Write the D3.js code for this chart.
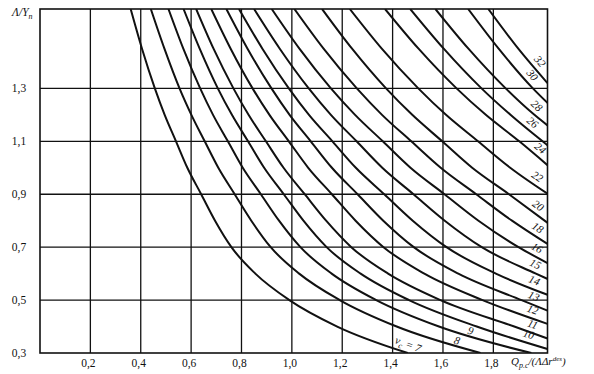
<!DOCTYPE html>
<html>
<head>
  <script src="https://d3js.org/d3.v7.min.js"></script>
  <style>
    body { margin: 0; background: #fff; }
    text { font-family: "Liberation Serif", "DejaVu Serif", serif; fill: #111; }
  </style>
</head>
<body>
  <div id="chart"></div>
  <script>
    // axis ticks
    var xTicks = [0.2, 0.4, 0.6, 0.8, 1.0, 1.2, 1.4, 1.6, 1.8];
    var yTicks = [0.3, 0.5, 0.7, 0.9, 1.1, 1.3];
    var xMax = 2.015, yMin = 0.3, yMax = 1.6;

    var yLevels = [1.6, 1.45, 1.3, 1.2, 1.1, 1.0, 0.9, 0.8, 0.7, 0.6, 0.5, 0.4, 0.3];

    // curve parameter values
    var vc = [7, 8, 9, 10, 11, 12, 13, 14, 15, 16, 18, 20, 22, 24, 26, 28, 30, 32];

    // x of each curve at the y levels above
    var x7  = [0.36, 0.405, 0.456, 0.495, 0.54, 0.585, 0.64, 0.695, 0.76, 0.855, 0.99, 1.18, 1.46];
    var x8  = [0.44, 0.494, 0.554, 0.601, 0.654, 0.708, 0.773, 0.839, 0.916, 1.029, 1.19, 1.416, 1.749];
    var x9  = [0.51, 0.569, 0.636, 0.687, 0.746, 0.805, 0.877, 0.949, 1.034, 1.158, 1.335, 1.584, 1.951];
    var x10 = [0.57, 0.634, 0.706, 0.762, 0.826, 0.89, 0.968, 1.046, 1.138, 1.273, 1.465, 1.734];
    var x11 = [0.62, 0.689, 0.768, 0.828, 0.897, 0.967, 1.051, 1.136, 1.236, 1.382, 1.59, 1.883];
    var x12 = [0.68, 0.757, 0.844, 0.911, 0.988, 1.065, 1.159, 1.253, 1.364, 1.526, 1.757];
    var x13 = [0.74, 0.824, 0.919, 0.991, 1.075, 1.159, 1.261, 1.363, 1.484, 1.661, 1.912];
    var x14 = [0.79, 0.883, 0.988, 1.068, 1.161, 1.254, 1.367, 1.48, 1.614, 1.81];
    var x15 = [0.85, 0.952, 1.067, 1.155, 1.257, 1.359, 1.483, 1.607, 1.754, 1.969];
    var x16 = [0.92, 1.03, 1.155, 1.251, 1.361, 1.471, 1.606, 1.741, 1.90];
    var x18 = [1.01, 1.126, 1.258, 1.358, 1.474, 1.591, 1.732, 1.874];
    var x20 = [1.12, 1.239, 1.374, 1.478, 1.597, 1.716, 1.862];
    var x22 = [1.23, 1.357, 1.502, 1.612, 1.739, 1.867];
    var x24 = [1.37, 1.503, 1.654, 1.77, 1.903];
    var x26 = [1.47, 1.603, 1.753, 1.868];
    var x28 = [1.57, 1.701, 1.849, 1.963];
    var x30 = [1.70, 1.821, 1.957];
    var x32 = [1.78, 1.899];
    var curveX = [x7, x8, x9, x10, x11, x12, x13, x14, x15, x16, x18, x20, x22, x24, x26, x28, x30, x32];

    // where each curve leaves the frame on the right side (null = runs to the bottom)
    var rightEndY = [null, null, null, 0.315, 0.355, 0.41, 0.46, 0.52, 0.58, 0.64, 0.712, 0.792, 0.902, 1.01, 1.085, 1.16, 1.245, 1.32];

    // x of each curve label centre
    var labelX = [1.45, 1.65, 1.705, 1.93, 1.945, 1.945, 1.948, 1.95, 1.952, 1.958, 1.958, 1.958, 1.956, 1.965, 1.935, 1.95, 1.93, 1.96];

    var W = 594, H = 374;
    var svg = d3.select("#chart").append("svg")
      .attr("width", W).attr("height", H)
      .style("background", "#fff");

    var xScale = d3.scaleLinear().domain([0, xMax]).range([40, 547.5]);
    var yScale = d3.scaleLinear().domain([yMin, yMax]).range([353, 9]);

    // grid
    svg.append("g").selectAll("line.v")
      .data(xTicks).enter().append("line")
      .attr("x1", d => xScale(d)).attr("x2", d => xScale(d))
      .attr("y1", yScale(yMin)).attr("y2", yScale(yMax))
      .attr("stroke", "#111").attr("stroke-width", 1.3);

    svg.append("g").selectAll("line.h")
      .data(yTicks.slice(1)).enter().append("line")
      .attr("x1", xScale(0)).attr("x2", xScale(xMax))
      .attr("y1", d => yScale(d)).attr("y2", d => yScale(d))
      .attr("stroke", "#111").attr("stroke-width", 1.3);

    // frame
    svg.append("rect")
      .attr("x", xScale(0)).attr("y", yScale(yMax))
      .attr("width", xScale(xMax) - xScale(0))
      .attr("height", yScale(yMin) - yScale(yMax))
      .attr("fill", "none").attr("stroke", "#111").attr("stroke-width", 1.6);

    // build point lists
    var curves = curveX.map(function(xs, i) {
      var pts = xs.map((x, j) => [x, yLevels[j]]);
      if (rightEndY[i] != null) pts.push([xMax, rightEndY[i]]);
      return pts;
    });

    var line = d3.line()
      .x(d => xScale(d[0]))
      .y(d => yScale(d[1]))
      .curve(d3.curveMonotoneX);

    svg.append("clipPath").attr("id", "plot")
      .append("rect")
      .attr("x", xScale(0)).attr("y", yScale(yMax))
      .attr("width", xScale(xMax) - xScale(0))
      .attr("height", yScale(yMin) - yScale(yMax));

    svg.append("g").attr("clip-path", "url(#plot)")
      .selectAll("path").data(curves).enter().append("path")
      .attr("d", line)
      .attr("fill", "none")
      .attr("stroke", "#111")
      .attr("stroke-width", 2);

    // curve labels: sit just above their curve
    function yAt(pts, x) {
      for (var k = 1; k < pts.length; k++) {
        if (pts[k][0] >= x) {
          var a = pts[k - 1], b = pts[k];
          var t = (x - a[0]) / (b[0] - a[0]);
          return { y: a[1] + t * (b[1] - a[1]), a: a, b: b };
        }
      }
      var n = pts.length;
      return { y: pts[n - 1][1], a: pts[n - 2], b: pts[n - 1] };
    }

    vc.forEach(function(v, i) {
      var r = yAt(curves[i], labelX[i]);
      var px = xScale(labelX[i]), py = yScale(r.y);
      var dx = xScale(r.b[0]) - xScale(r.a[0]);
      var dy = yScale(r.b[1]) - yScale(r.a[1]);
      var ang = Math.atan2(dy, dx) * 180 / Math.PI;
      var len = Math.hypot(dx, dy);
      var off = (v === 8 || v === 9) ? 5 : 8.5;
      var nx = dy / len * off, ny = -dx / len * off;
      var t = svg.append("text")
        .attr("transform", "translate(" + (px + nx) + "," + (py + ny) + ") rotate(" + ang + ")")
        .attr("text-anchor", "middle")
        .attr("dy", "0.35em")
        .style("font-size", "11px")
        .style("font-style", "italic");
      if (v === 7) {
        t.append("tspan").text("ν");
        t.append("tspan").attr("dy", 3).style("font-size", "8px").text("c");
        t.append("tspan").attr("dy", -3).text(" = 7");
      } else {
        t.text(v);
      }
    });

    // tick labels
    var fmt = d => d.toFixed(1).replace(".", ",");
    svg.append("g").selectAll("text")
      .data(xTicks).enter().append("text")
      .attr("x", d => xScale(d) - 2).attr("y", 367)
      .attr("text-anchor", "middle")
      .style("font-size", "11.5px")
      .text(fmt);

    svg.append("g").selectAll("text")
      .data(yTicks).enter().append("text")
      .attr("x", 19).attr("y", d => yScale(d) + 4)
      .attr("text-anchor", "middle")
      .style("font-size", "11.5px")
      .text(fmt);

    // axis titles
    var yt = svg.append("text").attr("x", 12).attr("y", 16)
      .style("font-size", "11.5px").style("font-style", "italic");
    yt.append("tspan").text("Λ/Y");
    yt.append("tspan").attr("dy", 3).style("font-size", "8px").text("n");

    var xt = svg.append("text").attr("x", 511).attr("y", 365)
      .style("font-size", "11px").style("font-style", "italic");
    xt.append("tspan").text("Q");
    xt.append("tspan").attr("dy", 3).style("font-size", "8px").text("p.c");
    xt.append("tspan").attr("dy", -3).text("/(ΛΔr");
    xt.append("tspan").attr("dy", -4).style("font-size", "7px").text("des");
    xt.append("tspan").attr("dy", 4).text(")");
  </script>
</body>
</html>
